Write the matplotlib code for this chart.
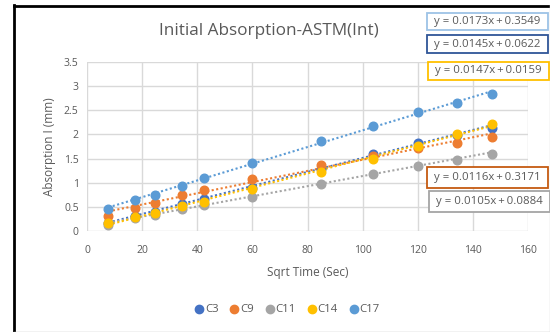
import matplotlib
matplotlib.use("Agg")
import matplotlib.pyplot as plt
import numpy as np
from matplotlib.lines import Line2D
from matplotlib.patches import Rectangle

plt.rcParams['font.family'] = ['Open Sans', 'DejaVu Sans']

# ---- data ----
sqrt_time = [7.75, 17.32, 24.49, 34.64, 42.43, 60.0, 84.85, 103.92, 120.0, 134.16, 146.97]
series_names = ["C3", "C9", "C11", "C14", "C17"]
c3 = [0.17, 0.31, 0.40, 0.55, 0.67, 0.90, 1.28, 1.59, 1.82, 1.98, 2.14]
c9 = [0.32, 0.48, 0.57, 0.75, 0.85, 1.07, 1.36, 1.55, 1.71, 1.83, 1.95]
c11 = [0.12, 0.26, 0.33, 0.46, 0.53, 0.71, 0.98, 1.19, 1.35, 1.48, 1.59]
c14 = [0.16, 0.30, 0.37, 0.52, 0.61, 0.86, 1.23, 1.50, 1.76, 2.00, 2.22]
c17 = [0.46, 0.64, 0.75, 0.94, 1.10, 1.41, 1.86, 2.17, 2.46, 2.66, 2.83]
slopes = [0.0145, 0.0116, 0.0105, 0.0147, 0.0173]
intercepts = [0.0622, 0.3171, 0.0884, 0.0159, 0.3549]
x_ticks = [0, 20, 40, 60, 80, 100, 120, 140, 160]
y_ticks = [0, 0.5, 1, 1.5, 2, 2.5, 3, 3.5]
y_tick_labels = ["0", "0.5", "1", "1.5", "2", "2.5", "3", "3.5"]

colors = ["#4472C4", "#ED7D31", "#A5A5A5", "#FFC000", "#5B9BD5"]
values = [c3, c9, c11, c14, c17]

W, H = 550, 332
fig = plt.figure(figsize=(W / 100, H / 100), dpi=100)
ax = fig.add_axes([87 / W, 1 - 231 / H, (528 - 87) / W, (231 - 62) / H])

xs = np.array(sqrt_time)
xl = np.array([xs.min(), xs.max()])
for name, vals, col, m, b in zip(series_names, values, colors, slopes, intercepts):
    ax.plot(xl, m * xl + b, linestyle=(0, (1, 1.2)), color=col, lw=1.5, zorder=2)
for name, vals, col in zip(series_names, values, colors):
    ax.plot(xs, vals, 'o', color=col, markersize=6.2, zorder=3, label=name)

ax.set_xlim(0, 160)
ax.set_ylim(0, 3.5)
ax.set_xticks(x_ticks)
ax.set_yticks(y_ticks)
ax.set_yticklabels(y_tick_labels)
ax.grid(True, color="#D9D9D9", lw=1)
ax.set_axisbelow(True)
for s in ax.spines.values():
    s.set_visible(False)
ax.tick_params(length=0, colors="#595959", labelsize=7.5, pad=10)
ax.tick_params(axis='y', pad=6)
ax.set_xlabel("Sqrt Time (Sec)", color="#595959", fontsize=8.5, labelpad=7)
ax.set_ylabel("Absorption I (mm)", color="#595959", fontsize=8.5, labelpad=6)

fig.text(269 / W, 1 - 31 / H, "Initial Absorption-ASTM(Int)", ha="center", va="center",
         color="#595959", fontsize=12.3)

handles = [Line2D([], [], marker='o', ls='', color=c, markersize=6) for c in colors]
leg = fig.legend(handles, series_names, loc="center", bbox_to_anchor=(286 / W, 1 - 310 / H),
                 ncol=5, frameon=False, fontsize=8.2, handletextpad=-0.1, columnspacing=0.8,
                 handlelength=1.2, labelcolor="#595959")

# equation boxes
eq_order = [4, 0, 3, 1, 2]
eq_boxes = [(427, 13, 548, 30, "#9DC3E6"), (427, 35, 548, 53, "#2F5597"),
            (428, 62, 549, 80, "#FFC000"), (427, 167, 548, 188, "#C55A11"),
            (429, 191, 550, 212, "#A5A5A5")]
for idx, (x0, y0, x1, y1, ec) in zip(eq_order, eq_boxes):
    fig.patches.append(Rectangle((x0 / W, 1 - y1 / H), (x1 - x0) / W, (y1 - y0) / H,
                                 transform=fig.transFigure, fill=True, facecolor="white",
                                 edgecolor=ec, lw=1.3, zorder=5))
    txt = "y = %.4fx\u2009+\u2009%.4f" % (slopes[idx], intercepts[idx])
    fig.text((x0 + x1) / 2 / W, 1 - (y0 + y1) / 2 / H, txt, ha="center", va="center",
             color="#595959", fontsize=8.2, zorder=6)

# outer frame
fig.add_artist(Line2D([14 / W, 14 / W], [0, 1 - 5 / H], transform=fig.transFigure,
                      color="black", lw=2))
fig.add_artist(Line2D([14 / W, 1], [1 - 5.5 / H, 1 - 5.5 / H], transform=fig.transFigure,
                      color="black", lw=2))
fig.add_artist(Line2D([14 / W, 1], [0.5 / H, 0.5 / H], transform=fig.transFigure,
                      color="#BFBFBF", lw=1))
fig.add_artist(Line2D([1 - 0.5 / W, 1 - 0.5 / W], [0, 1 - 5 / H], transform=fig.transFigure,
                      color="#D9D9D9", lw=1))

fig.savefig("out.png", dpi=100)
